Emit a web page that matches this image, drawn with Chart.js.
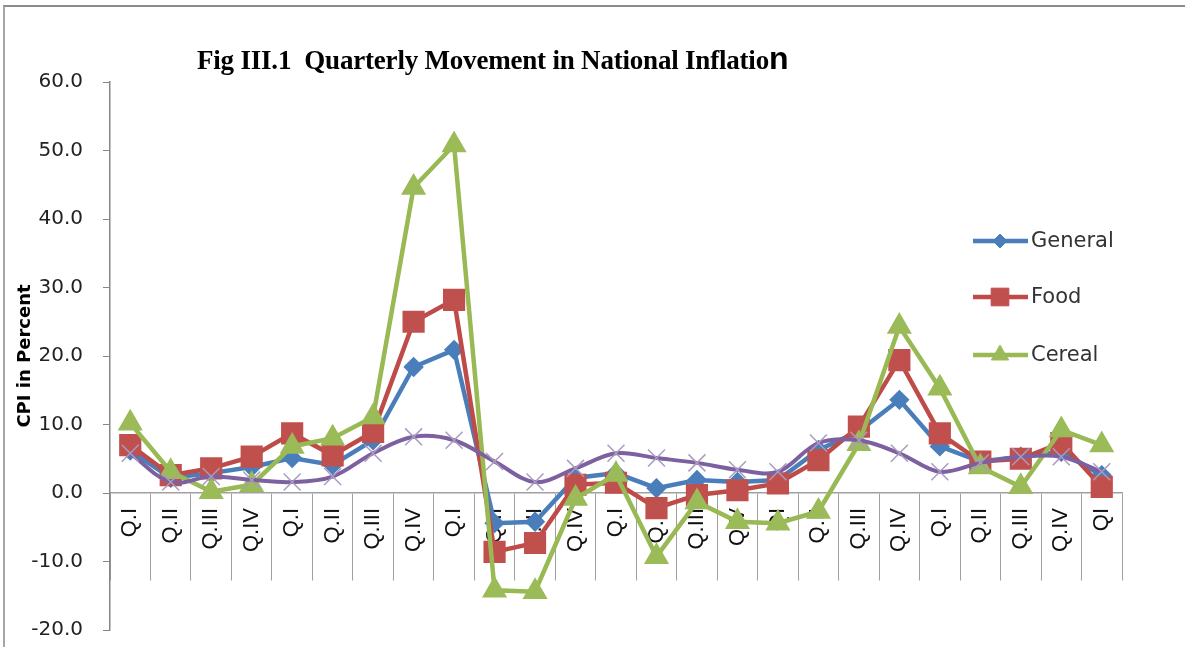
<!DOCTYPE html>
<html lang="en">
<head>
    <meta charset="UTF-8">
    <title>Fig III.1 Quarterly Movement in National Inflation</title>
    <script src="https://cdn.jsdelivr.net/npm/chart.js"></script>
    <style>
        body { margin: 0; background: #fff; }
        #wrap { position: relative; width: 1185px; height: 647px; overflow: hidden; background: #fff; }
        #frame { position: absolute; left: 3px; top: 5px; width: 1200px; height: 700px;
                 border-top: 2px solid #8c8c8c; border-left: 2px solid #a6a6a6; pointer-events: none; }
        #title { position: absolute; left: 197px; top: 40px; white-space: nowrap;
                 font: bold 27px "Liberation Serif", serif; color: #000; letter-spacing: -0.2px; }
        #title span { font: bold 32px "Liberation Sans", sans-serif; }
    </style>
</head>
<body>
<div id="wrap">
    <canvas id="inflationChart" width="1185" height="647"></canvas>
    <div id="title">Fig III.1&nbsp;&nbsp;Quarterly Movement in National Inflatio<span>n</span></div>
    <div id="frame"></div>
</div>

<script>
    // quarters on the x axis
    const quarters = ['Q.I', 'Q.II', 'Q.III', 'Q.IV', 'Q.I', 'Q.II', 'Q.III', 'Q.IV', 'Q.I', 'Q.II', 'Q.III', 'Q.IV',
        'Q.I', 'Q.II', 'Q.III', 'QIV', 'QI', 'Q.II', 'Q.III', 'Q.IV', 'Q.I', 'Q.II', 'Q.III', 'Q.IV', 'QI'];

    // CPI inflation in percent
    const general = [6.2, 2.2, 2.9, 3.8, 5.1, 4.1, 7.7, 18.4, 20.9, -4.4, -4.2, 2.2, 2.9, 0.7, 1.9, 1.6, 1.9, 6.3, 9.0, 13.6, 6.8, 4.6, 5.3, 6.0, 2.6];
    const food = [7.0, 2.6, 3.6, 5.3, 8.7, 5.5, 8.9, 25.0, 28.2, -8.6, -7.3, 1.2, 1.5, -2.2, -0.3, 0.4, 1.4, 4.8, 9.7, 19.4, 8.7, 4.6, 5.0, 7.3, 0.9];
    const cereal = [10.2, 3.1, 0.2, 1.2, 6.8, 8.0, 11.1, 44.6, 50.8, -14.2, -14.4, -0.8, 2.7, -9.3, -1.3, -4.2, -4.4, -2.7, 7.2, 24.3, 15.3, 3.8, 0.9, 9.2, 7.0];
    const nonFood = [5.8, 1.6, 2.4, 1.9, 1.6, 2.4, 5.8, 8.2, 7.7, 4.6, 1.6, 3.6, 5.8, 5.1, 4.4, 3.4, 3.1, 7.3, 7.7, 5.8, 3.1, 4.4, 5.3, 5.3, 3.1];

    const legendNames = ['General', 'Food', 'Cereal'];

    // legend sits inside the plot on the right, only the first three series
    const sideLegend = {
        id: 'sideLegend',
        afterDraw(chart) {
            const ctx = chart.ctx;
            const x0 = chart.chartArea.right - 149;
            const rows = [241, 297, 355];
            legendNames.forEach((name, i) => {
                const ds = chart.data.datasets[i];
                const y = rows[i];
                ctx.save();
                ctx.strokeStyle = ds.borderColor;
                ctx.lineWidth = ds.borderWidth;
                ctx.beginPath();
                ctx.moveTo(x0, y);
                ctx.lineTo(x0 + 55, y);
                ctx.stroke();
                ctx.fillStyle = ds.pointBackgroundColor;
                ctx.strokeStyle = ds.pointBorderColor;
                ctx.lineWidth = 1;
                Chart.helpers.drawPoint(ctx, { pointStyle: ds.pointStyle, radius: ds.pointRadius, borderWidth: 1, rotation: 0 }, x0 + 27, y);
                ctx.fillStyle = '#333';
                ctx.font = '21px "DejaVu Sans"';
                ctx.textBaseline = 'middle';
                ctx.fillText(name, x0 + 58, y + 1);
                ctx.restore();
            });
        }
    };

    const ctx = document.getElementById('inflationChart').getContext('2d');
    const chart = new Chart(ctx, {
        type: 'line',
        data: {
            labels: quarters,
            datasets: [{
                label: 'General',
                data: general,
                borderColor: '#4A7EBB',
                borderWidth: 4.5,
                pointStyle: 'rectRot',
                pointRadius: 7,
                pointBackgroundColor: '#4A7EBB',
                pointBorderColor: '#4A7EBB',
                tension: 0,
                order: 3
            }, {
                label: 'Food',
                data: food,
                borderColor: '#BE4B48',
                borderWidth: 4.5,
                pointStyle: 'rect',
                pointRadius: 12.5,
                pointBackgroundColor: '#C0504D',
                pointBorderColor: '#C0504D',
                tension: 0,
                order: 2
            }, {
                label: 'Cereal',
                data: cereal,
                borderColor: '#98B954',
                borderWidth: 4.5,
                pointStyle: 'triangle',
                pointRadius: 10,
                pointBackgroundColor: '#9BBB59',
                pointBorderColor: '#9BBB59',
                tension: 0,
                order: 1
            }, {
                label: 'Non-Food',
                data: nonFood,
                borderColor: '#7D60A0',
                borderWidth: 4,
                pointStyle: 'crossRot',
                pointRadius: 12,
                pointBorderColor: '#A99BC0',
                pointBorderWidth: 1.5,
                tension: 0.35,
                order: 0
            }]
        },
        options: {
            responsive: false,
            animation: false,
            layout: { padding: { left: 0, right: 63, top: 82, bottom: 15 } },
            plugins: {
                legend: { display: false },
                tooltip: { enabled: false }
            },
            scales: {
                x: {
                    position: { y: 0 },
                    offset: true,
                    afterFit: (scale) => {
                        scale.height = 0;
                        scale.paddingTop = 0; scale.paddingBottom = 0;
                        scale.paddingLeft = 0; scale.paddingRight = 0;
                    },
                    grid: { offset: true, drawOnChartArea: false, tickLength: 87, color: '#a0a0a0', lineWidth: 1 },
                    border: { color: '#a0a0a0', width: 1.5 },
                    ticks: {
                        autoSkip: false,
                        minRotation: 90,
                        maxRotation: 90,
                        padding: -72,
                        color: '#111',
                        font: { family: '"Liberation Sans"', size: 22 }
                    }
                },
                y: {
                    min: -20,
                    max: 60,
                    afterFit: (scale) => {
                        scale.width = 110;
                        scale.paddingTop = 0; scale.paddingBottom = 0;
                    },
                    grid: { drawOnChartArea: false, tickLength: 7, color: '#868686' },
                    border: { color: '#868686', width: 1.5 },
                    ticks: {
                        stepSize: 10,
                        padding: 20,
                        color: '#222',
                        font: { family: '"DejaVu Sans"', size: 20 },
                        callback: (v) => v.toFixed(1)
                    },
                    title: {
                        display: true,
                        text: 'CPI in Percent',
                        color: '#000',
                        padding: { top: 15, bottom: 0 },
                        font: { family: '"DejaVu Sans"', size: 18, weight: 'bold' }
                    }
                }
            }
        },
        plugins: [sideLegend]
    });
</script>
</body>
</html>
